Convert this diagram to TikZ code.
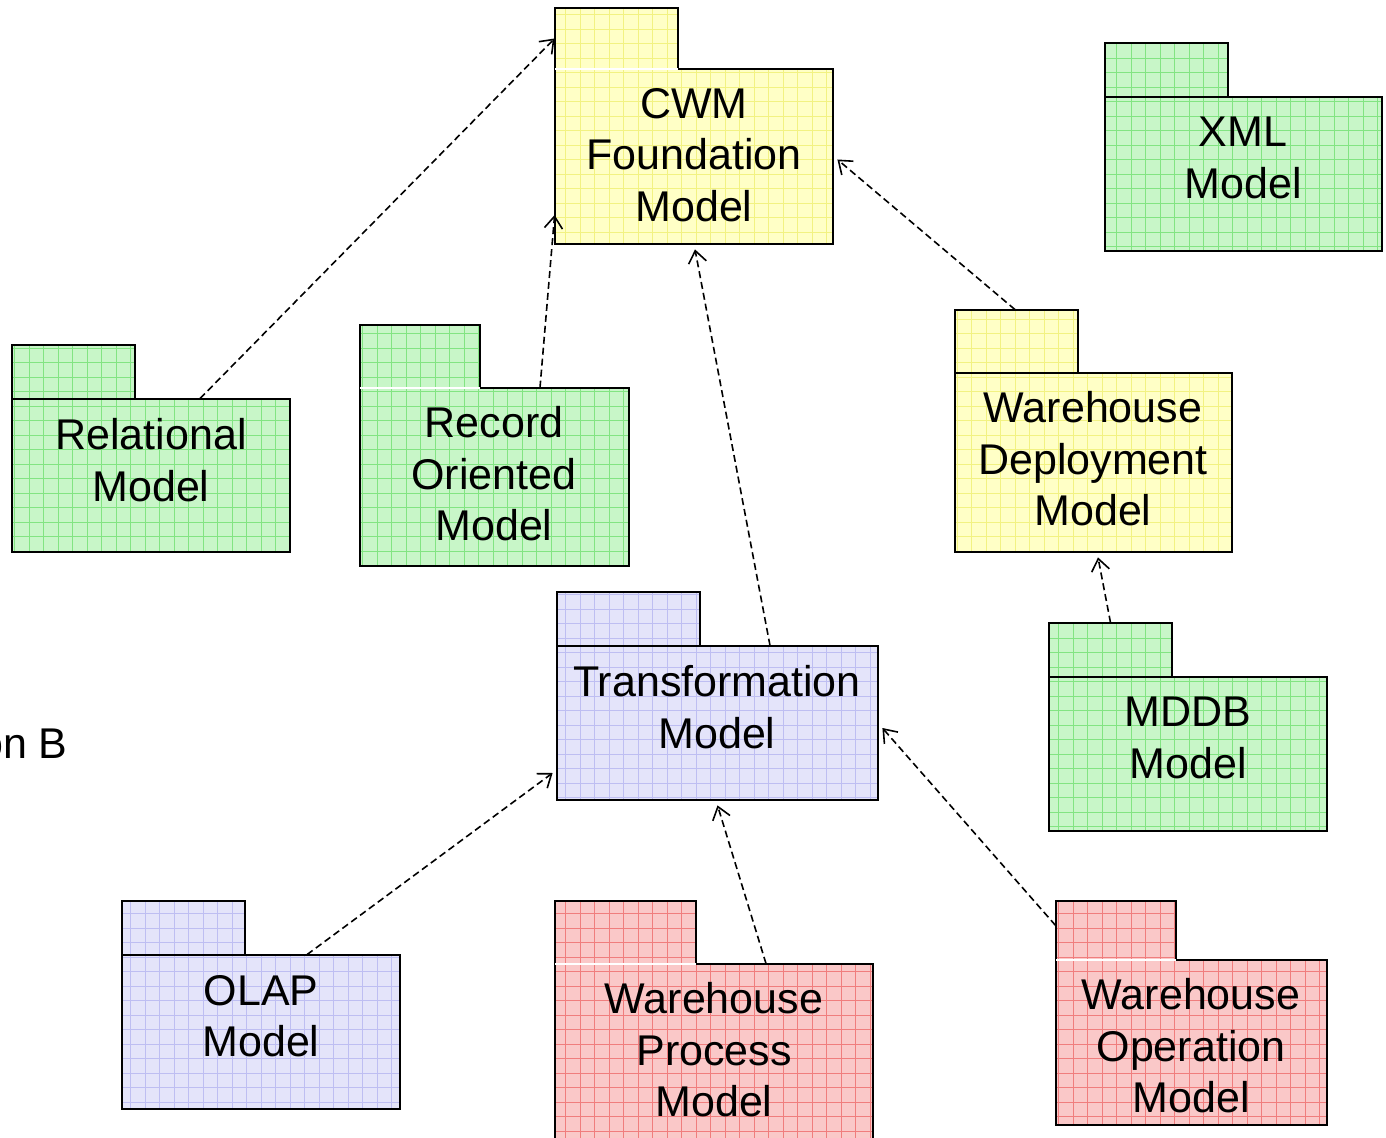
\documentclass[tikz,border=0pt]{standalone}
\usepackage{fontspec}
\setmainfont{Liberation Sans}
\usetikzlibrary{arrows.meta,calc,fit}
\definecolor{yfill}{RGB}{255,255,198}
\definecolor{ygrid}{RGB}{242,242,130}
\definecolor{gfill}{RGB}{200,246,200}
\definecolor{ggrid}{RGB}{130,228,130}
\definecolor{bfill}{RGB}{228,228,250}
\definecolor{bgrid}{RGB}{190,190,242}
\definecolor{rfill}{RGB}{250,200,200}
\definecolor{rgrid}{RGB}{240,125,125}
\tikzset{
  pkgline/.style={draw=black, line width=1.2pt},
  lbl/.style={align=center, font=\fontsize{21.5}{25.8}\selectfont, inner sep=0pt},
  dep/.style={dash pattern=on 3.5pt off 2pt, line width=0.8pt, -{Straight Barb[length=6pt,width=9pt]}},
}
% #1 name, #2 x1, #3 xt, #4 x2, #5 y1, #6 y2, #7 y3, #8 colour prefix, #9 divider colour
\newcommand\pkgdraw[9]{%
  \begin{scope}
    \clip (#2,#5) -| (#3,#6) -| (#4,#7) -| (#2,#5) -- cycle;
    \fill[#8fill] (#2,#5) rectangle (#4,#7);
    \draw[#8grid, line width=0.3pt, step=7.25pt] (#2,#5) grid (#4,#7);
  \end{scope}
  \draw[pkgline] (#2,#5) -| (#3,#6) -| (#4,#7) -| (#2,#5) -- cycle;
  \draw[#9, line width=1pt] (#2,#6) -- (#3,#6);
  \node[fit={(#2,#6)(#4,#7)}, inner sep=0pt] (#1) {};
  \node[fit={(#2,#5)(#3,#6)}, inner sep=0pt] (#1tab) {};
}
\begin{document}
\begin{tikzpicture}[x=0.5pt, y=-0.5pt]
\clip (0,0) rectangle (1386,1138);
\fill[white] (0,0) rectangle (1386,1138);

\pkgdraw{cwm}{555}{678}{833}{8}{69}{244}{y}{white}
\pkgdraw{xml}{1105}{1228}{1382}{43}{97}{251}{g}{black}
\pkgdraw{rel}{12}{135}{290}{345}{399}{552}{g}{black}
\pkgdraw{rec}{360}{480}{629}{325}{388}{566}{g}{white}
\pkgdraw{wd}{955}{1078}{1232}{310}{373}{552}{y}{black}
\pkgdraw{tr}{557}{700}{878}{592}{646}{800}{b}{black}
\pkgdraw{mddb}{1049}{1172}{1327}{623}{677}{831}{g}{black}
\pkgdraw{olap}{122}{245}{400}{901}{955}{1109}{b}{black}
\pkgdraw{wp}{555}{696}{873}{901}{964}{1142}{r}{white}
\pkgdraw{wo}{1056}{1176}{1327}{901}{960}{1125}{r}{white}

\node[lbl] (cwmtxt) at (694,155) {CWM\\Foundation\\Model};
\node[lbl] (xmltxt) at (1243,158) {XML\\Model};
\node[lbl] (reltxt) at (151,460) {Relational\\Model};
\node[lbl] (rectxt) at (494,474) {Record\\Oriented\\Model};
\node[lbl] (wdtxt) at (1093,459) {Warehouse\\Deployment\\Model};
\node[lbl] (trtxt) at (717,707) {Transformation\\Model};
\node[lbl] (mddbtxt) at (1188,738) {MDDB\\Model};
\node[lbl] (olaptxt) at (261,1016) {OLAP\\Model};
\node[lbl] (wptxt) at (714,1050) {Warehouse\\Process\\Model};
\node[lbl] (wotxt) at (1191,1046) {Warehouse\\Operation\\Model};
\node[lbl, anchor=base east] (optb) at (68,758) {on B};

\draw[dep] ($(rel.north)+(49,0)$) -- (cwmtab.west);
\draw[dep] ($(rec.north)+(45.5,0)$) -- ($(cwm.west)+(0,58.5)$);
\draw[dep] ($(tr.north)+(52.5,0)$) -- ($(cwm.south)+(1,5)$);
\draw[dep] ($(wdtab.north)+(-1.5,0)$) -- ($(cwm.east)+(4,3)$);
\draw[dep] (mddbtab.north) -- ($(wd.south)+(4.5,5)$);
\draw[dep] ($(olap.north)+(46,0)$) -- ($(tr.west)+(-4,50)$);
\draw[dep] ($(wp.north)+(52,0)$) -- ($(tr.south)+(0,5)$);
\draw[dep] ($(wotab.west)+(0,-5)$) -- ($(tr.east)+(4,5)$);
\end{tikzpicture}
\end{document}
